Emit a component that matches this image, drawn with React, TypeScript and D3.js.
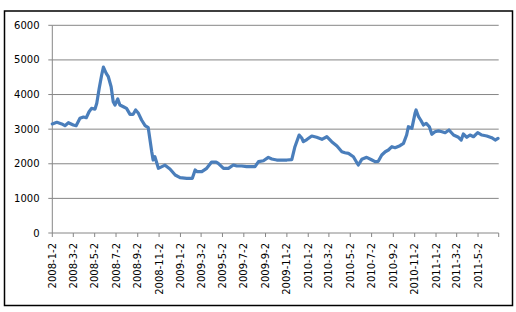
import React from "react";
import * as d3 from "d3";

const dates: string[] = [
  "2008-01-02","2008-01-15","2008-01-29","2008-02-07","2008-02-17","2008-03-02","2008-03-10","2008-03-21","2008-03-31","2008-04-08",
  "2008-04-16","2008-04-23","2008-05-03","2008-05-08","2008-05-15","2008-05-22","2008-05-27","2008-06-04","2008-06-10","2008-06-18",
  "2008-06-24","2008-06-29","2008-07-07","2008-07-13","2008-07-23","2008-08-01","2008-08-11","2008-08-20","2008-08-27","2008-09-04",
  "2008-09-13","2008-09-23","2008-10-02","2008-10-12","2008-10-16","2008-10-21","2008-10-31","2008-11-10","2008-11-19","2008-12-03",
  "2008-12-18","2009-01-01","2009-01-20","2009-02-05","2009-02-13","2009-02-19","2009-03-04","2009-03-18","2009-04-01","2009-04-14",
  "2009-04-20","2009-05-05","2009-05-19","2009-06-02","2009-06-12","2009-06-26","2009-07-10","2009-07-20","2009-08-03","2009-08-13",
  "2009-08-27","2009-09-10","2009-09-20","2009-10-04","2009-11-02","2009-11-16","2009-11-25","2009-12-07","2009-12-15","2009-12-19",
  "2009-12-29","2010-01-12","2010-01-26","2010-02-10","2010-02-24","2010-03-10","2010-03-25","2010-04-08","2010-04-17","2010-04-27",
  "2010-05-11","2010-05-21","2010-05-25","2010-06-04","2010-06-18","2010-07-03","2010-07-12","2010-07-21","2010-07-31","2010-08-10",
  "2010-08-19","2010-08-29","2010-09-07","2010-09-21","2010-10-01","2010-10-10","2010-10-15","2010-10-25","2010-11-03","2010-11-06",
  "2010-11-13","2010-11-20","2010-11-27","2010-12-05","2010-12-14","2010-12-21","2010-12-30","2011-01-09","2011-01-19","2011-01-28",
  "2011-02-08","2011-02-21","2011-03-07","2011-03-15","2011-03-21","2011-03-31","2011-04-09","2011-04-19","2011-05-01","2011-05-13",
  "2011-05-27","2011-06-10","2011-06-20","2011-06-28"
];

const values: number[] = [
  3150,3197,3150,3100,3186,3120,3100,3313,3350,3330,
  3504,3600,3580,3746,4180,4564,4790,4613,4515,4226,
  3793,3697,3870,3697,3648,3600,3428,3428,3553,3457,
  3264,3100,3042,2348,2108,2204,1868,1916,1960,1850,
  1675,1598,1580,1580,1820,1771,1771,1868,2050,2050,
  2013,1868,1868,1964,1935,1935,1916,1916,1916,2060,
  2088,2186,2137,2108,2108,2120,2493,2830,2735,2637,
  2700,2802,2764,2706,2781,2637,2513,2348,2319,2300,
  2204,2030,1964,2128,2186,2108,2060,2070,2253,2348,
  2397,2493,2464,2522,2590,2830,3070,3024,3457,3553,
  3360,3250,3120,3169,3070,2851,2926,2950,2926,2897,
  2975,2830,2764,2686,2860,2764,2830,2781,2897,2830,
  2802,2753,2686,2735
];

const xTickLabels: string[] = [
  "2008-1-2","2008-3-2","2008-5-2","2008-7-2","2008-9-2","2008-11-2",
  "2009-1-2","2009-3-2","2009-5-2","2009-7-2","2009-9-2","2009-11-2",
  "2010-1-2","2010-3-2","2010-5-2","2010-7-2","2010-9-2","2010-11-2",
  "2011-1-2","2011-3-2","2011-5-2"
];

const yTicks: number[] = [0, 1000, 2000, 3000, 4000, 5000, 6000];

const parse = d3.timeParse("%Y-%m-%d");
const parseLabel = d3.timeParse("%Y-%-m-%-d");

export default function App() {
  const W = 516, H = 312;
  const left = 52.3, right = 498.7, top = 25.3, bottom = 233;
  const x = d3.scaleTime()
    .domain([parse("2008-01-02")!, parse("2011-06-30")!])
    .range([left, right]);
  const y = d3.scaleLinear().domain([0, 6000]).range([bottom, top]);
  const pts = dates.map((d, i) => [parse(d)!, values[i]] as [Date, number]);
  const line = d3.line<[Date, number]>()
    .x(d => x(d[0]))
    .y(d => y(d[1]))
    .curve(d3.curveLinear);
  const font = "'DejaVu Sans', Verdana, sans-serif";

  return (
    <svg width={W} height={H} style={{ position: "absolute", left: 0, top: 0, background: "#fff" }}>
      <rect x={0} y={0} width={W} height={H} fill="#fff" />
      <rect x={4.5} y={11} width={508} height={294.5} fill="#fff" stroke="#000" strokeWidth={1.5} />
      {yTicks.map(t => (
        <g key={t}>
          {t > 0 && (
            <line x1={left} x2={right} y1={y(t)} y2={y(t)} stroke="#868686" strokeWidth={1} />
          )}
          <line x1={left - 4} x2={left} y1={y(t)} y2={y(t)} stroke="#868686" strokeWidth={1} />
          <text x={39.5} y={y(t)} dy="0.35em" textAnchor="end" fontFamily={font} fontSize={10} fill="#000">
            {t}
          </text>
        </g>
      ))}
      <line x1={left} x2={left} y1={top} y2={bottom} stroke="#868686" strokeWidth={1} />
      <line x1={left} x2={right} y1={bottom} y2={bottom} stroke="#868686" strokeWidth={1} />
      {xTickLabels.map(l => {
        const xx = x(parseLabel(l)!);
        return (
          <g key={l}>
            <line x1={xx} x2={xx} y1={bottom} y2={bottom + 4} stroke="#868686" strokeWidth={1} />
            <text
              transform={`translate(${xx},${bottom + 10}) rotate(-90)`}
              dy="0.35em"
              textAnchor="end"
              fontFamily={font}
              fontSize={10}
              fill="#000"
            >
              {l}
            </text>
          </g>
        );
      })}
      <line x1={right} x2={right} y1={bottom} y2={bottom + 4} stroke="#868686" strokeWidth={1} />
      <path d={line(pts) || ""} fill="none" stroke="#4a7ebb" strokeWidth={3.2} strokeLinejoin="round" strokeLinecap="round" />
    </svg>
  );
}
